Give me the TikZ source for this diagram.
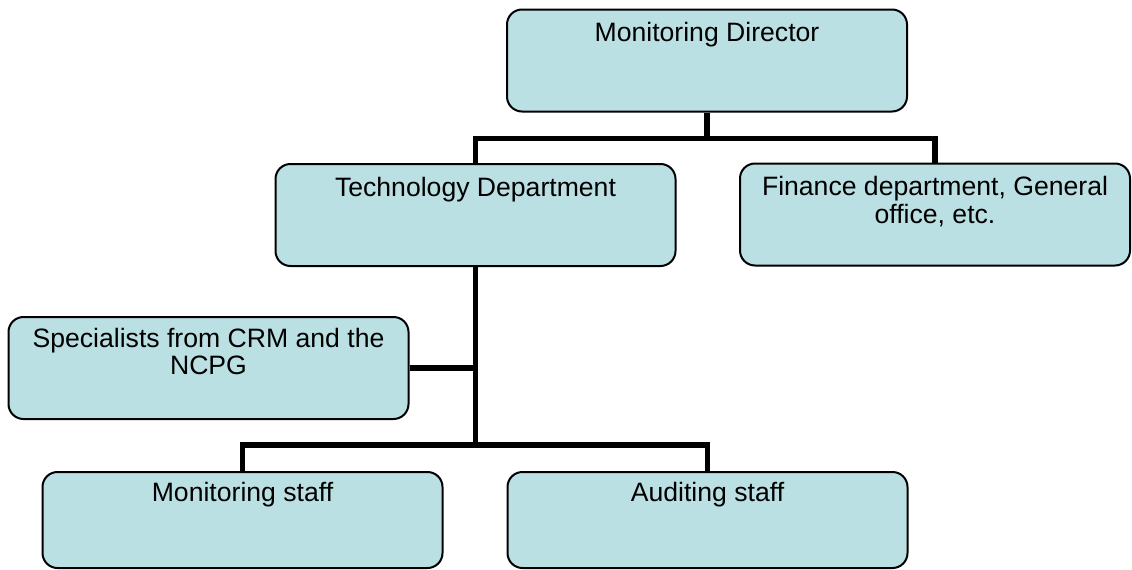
\documentclass[tikz,border=0pt]{standalone}
\usepackage{fontspec}
\setmainfont{Liberation Sans}
\definecolor{boxfill}{RGB}{187,224,227}
\begin{document}
\begin{tikzpicture}[x=1pt,y=-1pt,
  unitbox/.style={draw=black, line width=2pt, fill=boxfill, rounded corners=15pt,
    inner sep=0pt, minimum width=#1, minimum height=102pt},
  unitbox/.default=400pt,
  lbl/.style={anchor=base, align=center, inner sep=0pt,
    font=\fontsize{26.6}{27.5}\selectfont},
  link/.style={draw=black, line width=5.5pt}]
\useasboundingbox (0,0) rectangle (1132,570);

% organisation units
\node[unitbox] (dir)  at (707,60.5)   {};
\node[unitbox] (tech) at (475.5,215)  {};
\node[unitbox=390pt] (fin) at (935,214.5) {};
\node[unitbox] (spec) at (208.5,368)  {};
\node[unitbox, minimum height=96pt] (mon) at (242.5,520) {};
\node[unitbox, minimum height=96pt] (aud) at (707.5,520) {};

% unit titles, set near the top of each box
% (the base of a two-line title is its second line)
\node[lbl] (dirT)  at ([yshift=-33pt]dir.north)  {Monitoring Director};
\node[lbl] (techT) at ([yshift=-33pt]tech.north) {Technology Department};
\node[lbl] (finT)  at ([yshift=-60.5pt]fin.north)  {Finance department, General\\office, etc.};
\node[lbl] (specT) at ([yshift=-58.5pt]spec.north) {Specialists from CRM and the\\NCPG};
\node[lbl] (monT)  at ([yshift=-30pt]mon.north)  {Monitoring staff};
\node[lbl] (audT)  at ([yshift=-30pt]aud.north)  {Auditing staff};

% reporting lines
\coordinate (topbus) at ([yshift=-26pt]dir.south);
\coordinate (lowbus) at (475.5,445);
\draw[link] (dir.south) -- (topbus) -| (tech.north);
\draw[link] (topbus) -| (fin.north);
\draw[link] (tech.south) -- (lowbus);
\draw[link] (spec.east) -- (spec.east -| tech.south);
\draw[link] (lowbus) -| (mon.north);
\draw[link] (lowbus) -| (aud.north);
\end{tikzpicture}
\end{document}
